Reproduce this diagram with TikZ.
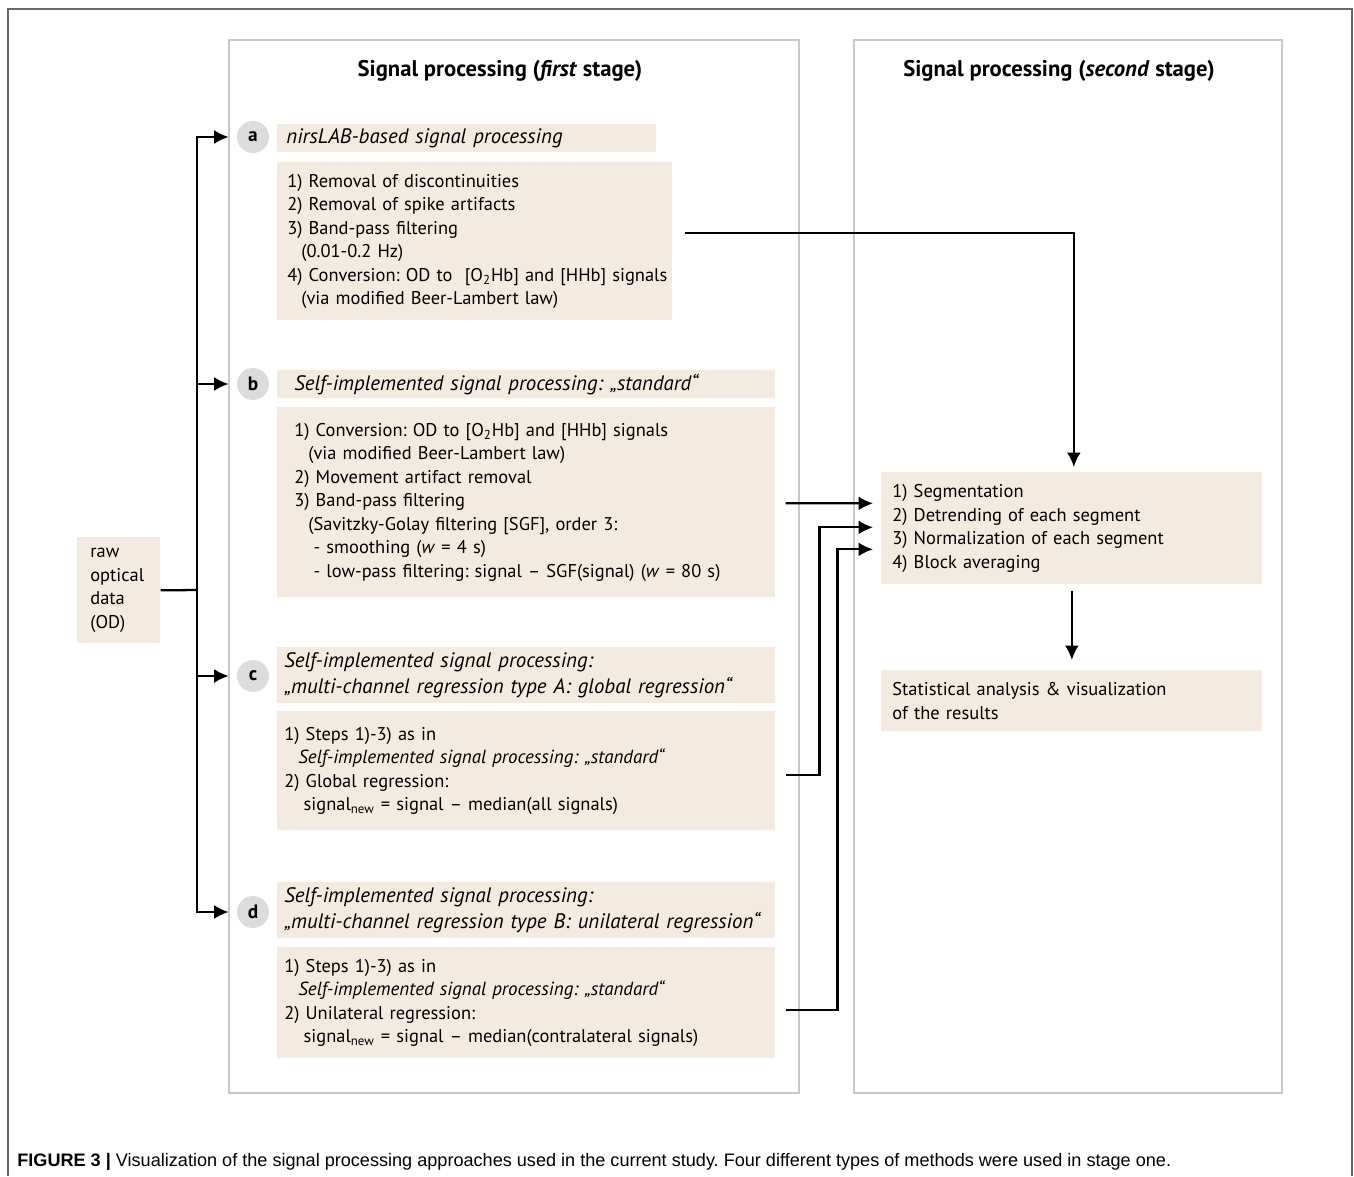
\documentclass[tikz,border=0pt]{standalone}
\usepackage{fontspec}
\setmainfont{PT Sans}
\newfontfamily\capfont{Liberation Sans}
\usetikzlibrary{arrows.meta}
\frenchspacing

\definecolor{boxfill}{RGB}{243,235,224}
\definecolor{framegray}{RGB}{200,200,200}
\definecolor{dotgray}{RGB}{220,220,220}
\definecolor{outergray}{RGB}{105,105,105}

\newcommand{\indA}{\hspace*{8pt}}
\newcommand{\indB}{\hspace*{11pt}}

\tikzset{
	stepbox/.style = { fill=boxfill, anchor=north west, align=left, inner ysep=0pt,
		font=\fontsize{10.5}{13.4}\selectfont },
	titlebox/.style = { stepbox, font=\fontsize{11.9}{14.8}\selectfont\itshape },
	stagebox/.style = { draw=framegray, line width=1.4pt },
	letter/.style = { circle, fill=dotgray, minimum size=0.64cm, inner sep=0pt,
		font=\fontsize{11}{11}\selectfont\bfseries },
	wire/.style = { line width=1.3pt },
	flow/.style = { wire, -{Latex[length=2.9mm,width=2.8mm]} }
}

\begin{document}
\begin{tikzpicture}[x=0.02cm, y=-0.02cm]
	\useasboundingbox (0,0) rectangle (1354,1176);
	\draw[outergray, line width=0.8pt] (8,1176) -- (8,9) -- (1352,9) -- (1352,1176);

	% the two stages
	\draw[stagebox] (229,40) rectangle (799,1093);
	\draw[stagebox] (854,40) rectangle (1282,1093);
	\node[font=\fontsize{12.9}{14}\selectfont\bfseries] (head1) at (500,71)
		{Signal processing (\textit{first} stage)};
	\node[font=\fontsize{12.9}{14}\selectfont\bfseries] (head2) at (1059,71)
		{Signal processing (\textit{second} stage)};

	% input
	\node[stepbox, minimum height=2.12cm, text width=1.14cm, inner xsep=0.26cm] (raw) at (77,537)
		{raw\\optical\\data\\(OD)};

	% first stage
	\node[letter] (la) at (253,137) {a};
	\node[letter] (lb) at (253,384) {b};
	\node[letter] (lc) at (253,676) {c};
	\node[letter] (ld) at (253,912) {d};

	\node[titlebox, minimum height=0.56cm, text width=7.22cm, inner xsep=0.18cm] (atitle) at (277,124)
		{nirsLAB-based signal processing};
	\node[stepbox, minimum height=3.16cm, text width=7.5cm, inner xsep=0.2cm] (abody) at (277,162)
		{1) Removal of discontinuities\\
		2) Removal of spike artifacts\\
		3) Band-pass filtering\\
		\indA(0.01-0.2 Hz)\\
		\mbox{4) Conversion: OD to~ [O\textsubscript{2}Hb] and [HHb] signals}\\
		\indA(via modified Beer-Lambert law)};

	\node[titlebox, minimum height=0.56cm, text width=9.28cm, inner xsep=0.34cm] (btitle) at (277,370)
		{Self-implemented signal processing: „standard“};
	\node[stepbox, minimum height=3.8cm, text width=9.28cm, inner xsep=0.34cm] (bbody) at (277,407)
		{1) Conversion: OD to [O\textsubscript{2}Hb] and [HHb] signals\\
		\indA(via modified Beer-Lambert law)\\
		2) Movement artifact removal\\
		3) Band-pass filtering\\
		\indA(Savitzky-Golay filtering [SGF], order 3:\\
		\indB- smoothing (\textit{w} = 4 s)\\
		\indB- low-pass filtering: signal – SGF(signal) (\textit{w} = 80 s)};

	\node[titlebox, minimum height=1.12cm, text width=9.68cm, inner xsep=0.14cm] (ctitle) at (277,647)
		{Self-implemented signal processing:\\
		„multi-channel regression type A: global regression“};
	\node[stepbox, minimum height=2.38cm, text width=9.68cm, inner xsep=0.14cm] (cbody) at (277,711)
		{1) Steps 1)-3) as in\\
		\indA{\fontsize{10.8}{13.4}\selectfont\itshape Self-implemented signal processing: „standard“}\\
		2) Global regression:\\
		\indB signal\textsubscript{new} = signal – median(all signals)};

	\node[titlebox, minimum height=1.12cm, text width=9.68cm, inner xsep=0.14cm] (dtitle) at (277,882)
		{Self-implemented signal processing:\\
		„multi-channel regression type B: unilateral regression“};
	\node[stepbox, minimum height=2.22cm, text width=9.68cm, inner xsep=0.14cm] (dbody) at (277,947)
		{1) Steps 1)-3) as in\\
		\indA{\fontsize{10.8}{13.4}\selectfont\itshape Self-implemented signal processing: „standard“}\\
		2) Unilateral regression:\\
		\indB signal\textsubscript{new} = signal – median(contralateral signals)};

	% second stage
	\node[stepbox, minimum height=2.24cm, text width=7.18cm, inner xsep=0.22cm] (seg) at (881,472)
		{1) Segmentation\\
		2) Detrending of each segment\\
		3) Normalization of each segment\\
		4) Block averaging};
	\node[stepbox, minimum height=1.22cm, text width=7.18cm, inner xsep=0.22cm] (stats) at (881,670)
		{Statistical analysis \& visualization\\
		of the results};

	% connectors
	\coordinate (trunk) at (197,590);
	\draw[wire] (raw.east) -- (trunk);
	\draw[flow, shorten >=0.16cm] (trunk) |- (la);
	\draw[flow, shorten >=0.16cm] (trunk) |- (ld);
	\draw[flow, shorten >=0.16cm] (lb -| trunk) -- (lb);
	\draw[flow, shorten >=0.16cm] (lc -| trunk) -- (lc);

	\draw[flow, shorten >=0.1cm] ([shift={(12,-8)}]abody.east) -| ([shift={(2,0)}]seg.north);
	\draw[flow] ([shift={(10,1)}]bbody.east) -- ([shift={(-8,-25)}]seg.west);
	\draw[flow] ([shift={(10,4.5)}]cbody.east) -- ++(34,0) |- ([shift={(-8,-1)}]seg.west);
	\draw[flow] ([shift={(10,7.5)}]dbody.east) -- ++(52,0) |- ([shift={(-8,21)}]seg.west);
	\draw[flow, shorten <=0.12cm, shorten >=0.2cm] (seg.south) -- (stats.north);

	% caption
	\node[anchor=base west, inner sep=0pt, font=\capfont\fontsize{10.3}{12}\selectfont] (caption) at (17,1166)
		{\textbf{FIGURE 3 |} Visualization of the signal processing approaches used in the current study. Four different types of methods were used in stage one.};
\end{tikzpicture}
\end{document}
